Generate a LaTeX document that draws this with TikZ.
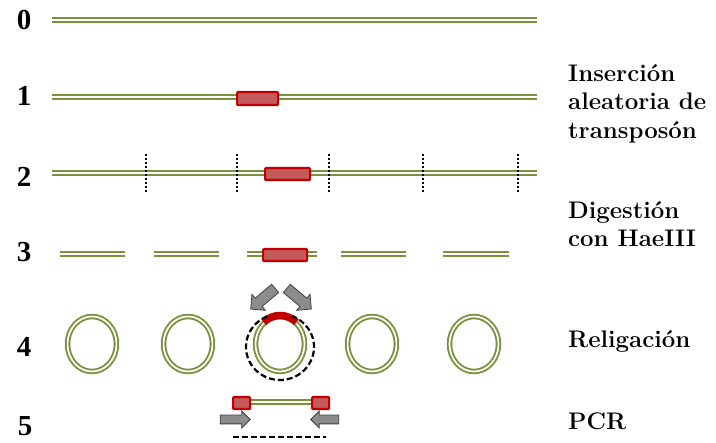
\documentclass[tikz,border=0pt]{standalone}
\usepackage{fontspec}
\newfontfamily\digitfont{Liberation Serif}
\usetikzlibrary{shapes.arrows}
\definecolor{dnagreen}{RGB}{119,147,60}
\definecolor{tnred}{RGB}{192,0,0}
\definecolor{tnfill}{RGB}{196,90,90}
\definecolor{arrowgray}{RGB}{140,140,140}
\definecolor{arrowedge}{RGB}{64,64,64}
\tikzset{
  dna/.style={draw=dnagreen, line width=1.9pt, double=white, double distance=1.7pt},
  transposon/.style={draw=tnred, line width=2.2pt, fill=tnfill, rounded corners=1pt,
    inner sep=0pt, anchor=north west},
  cutsite/.style={draw=black, line width=2pt, dash pattern=on 2pt off 2pt},
  rownum/.style={font=\digitfont\bfseries\fontsize{29}{29}\selectfont, anchor=base,
    inner sep=0pt},
  steplabel/.style={font=\bfseries\fontsize{24}{28.5}\selectfont, align=left,
    anchor=base west, inner sep=0pt},
  blockarrow/.style={single arrow, draw=arrowedge, fill=arrowgray, line width=0.8pt,
    inner sep=5pt, minimum height=32pt, single arrow head extend=5pt,
    single arrow head indent=0pt},
  primer/.style={draw=black, line width=2.2pt, dash pattern=on 6pt off 3pt},
}
\begin{document}
\begin{tikzpicture}[x=1pt, y=-1pt]
\useasboundingbox (0,0) rectangle (716,443);

% step numbers
\node[rownum] (n0) at (24,30) {0};
\node[rownum] (n1) at (24,106) {1};
\node[rownum] (n2) at (24,187) {2};
\node[rownum] (n3) at (24,262) {3};
\node[rownum] (n4) at (24,357) {4};
\node[rownum] (n5) at (25,435.5) {5};

% step descriptions (anchored on the baseline of the last line)
\node[steplabel] (l1) at (568,138.5) {Inserción\\aleatoria de\\transposón};
\node[steplabel] (l2) at (568,247) {Digestión\\con HaeIII};
\node[steplabel] (l3) at (568,348) {Religación};
\node[steplabel] (l4) at (568,430) {PCR};

% 0: genomic DNA
\draw[dna] (52,20) -- (537,20);

% 1: transposon inserted
\draw[dna] (52,97) -- (537,97);
\node[transposon, minimum width=41pt, minimum height=13pt] (tn1) at (236,91) {};

% 2: HaeIII cut sites
\draw[dna] (52,173) -- (537,173);
\node[transposon, minimum width=45pt, minimum height=12pt] (tn2) at (264,167) {};
\foreach \x in {146,237,329,423,518}
  \draw[cutsite] (\x,154) -- (\x,192);

% 3: restriction fragments
\foreach \a/\b in {60/125,154/219,247/317,341/406,443/509}
  \draw[dna] (\a,254) -- (\b,254);
\node[transposon, minimum width=44pt, minimum height=12pt] (tn3) at (262,248) {};

% 4: self-ligated circles
\foreach \cx in {92,188,280,372,474}
  \draw[dna] (\cx,344) ellipse [x radius=24.5, y radius=27.5];
\draw[tnred, line width=7.5pt] (280,344) ++(-130:25.5 and 28.5)
  arc[start angle=-130, end angle=-50, x radius=25.5, y radius=28.5];
\draw[black, line width=2.2pt, dash pattern=on 6pt off 3pt] (280,347) ++(-112:34 and 33)
  arc[start angle=-112, end angle=-428, x radius=34, y radius=33];
\node[blockarrow, rotate=220] (a1) at (265,297) {};
\node[blockarrow, rotate=320] (a2) at (297,297) {};

% 5: inverse PCR
\draw[dna] (240,402) -- (320,402);
\node[transposon, minimum width=17pt, minimum height=12pt] (tn4) at (232,396) {};
\node[transposon, minimum width=17pt, minimum height=12pt] (tn5) at (311,396) {};
\node[blockarrow, minimum height=30pt, inner sep=4pt, single arrow head extend=4pt] (a3) at (233,419.5) {};
\node[blockarrow, minimum height=28pt, inner sep=4pt, single arrow head extend=4pt, rotate=180] (a4) at (327,419.5) {};
\draw[primer] (233,437) -- (326,437);
\end{tikzpicture}
\end{document}
